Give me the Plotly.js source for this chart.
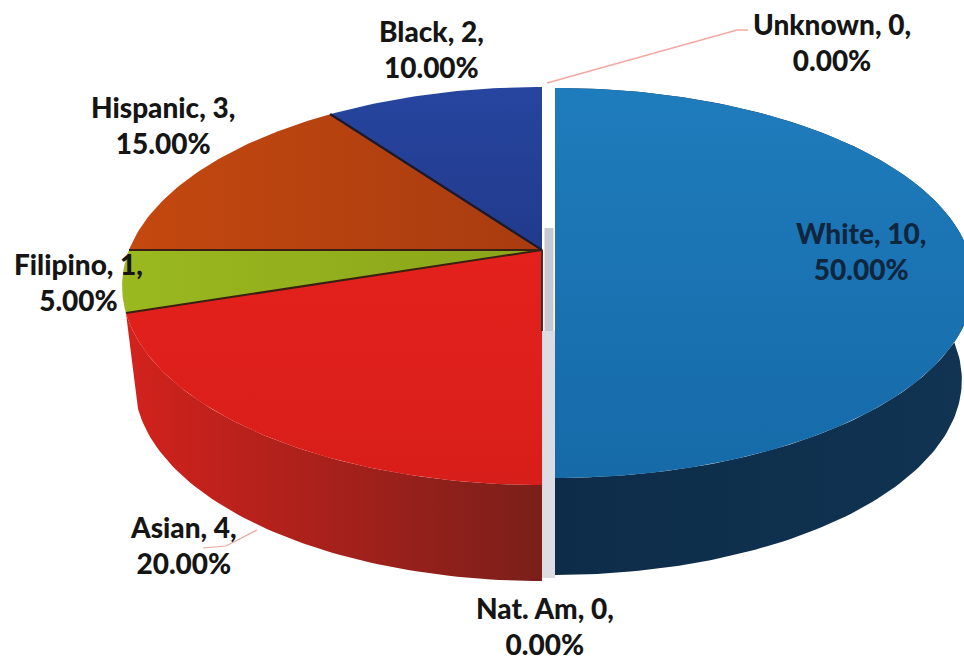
<!DOCTYPE html>
<html><head><meta charset="utf-8">
<script src="https://cdn.plot.ly/plotly-3.0.1.min.js"></script>
<style>html,body{margin:0;padding:0;background:#fff}#c{width:964px;height:661px}</style>
</head><body><div id="c"></div>
<script>
// Data (clockwise from 12 o'clock)
const categories = ['White','Nat. Am','Asian','Filipino','Hispanic','Black','Unknown'];
const counts = [10,0,4,1,3,2,0];
const percents = ['50.00%','0.00%','20.00%','5.00%','15.00%','10.00%','0.00%'];
const topColors = [['#166aa8','#1f7cbc'],null,['#d81e1a','#e4211c'],['#9ab81f','#8aa51a'],['#c4480f','#a83c10'],['#213a8c','#27459f'],null];
const sideColors = [['#0d2c49','#103452'],null,['#d3221c','#7a1f1a'],null,null,null,null];
const gradientDir = ['vertical',null,'vertical','horizontal','horizontal','vertical',null];
const labelX = [861,545,183,78,163,431,832];
const labelY = [251,626,545,282,125,49,42];
const labelColor = ['#10263f','#151515','#151515','#151515','#151515','#151515','#151515'];

const total = counts.reduce((a,b)=>a+b,0);
const P = 0.181;
const geomLeft  = {cx:542, cy:250, a:413, b:192.5, p:P, cy2:346, a2:401, b2:192.5};
const geomWhite = {cx:555, cy:250, a:413, b:189.4, p:0.169, cy2:347, a2:401, b2:189.4};

function project(g, deg, lower){
  const t = deg*Math.PI/180, u = Math.sin(t), v = Math.cos(t), w = 1+g.p*v;
  return lower ? [g.cx+g.a2*u/w, g.cy2-g.b2*v/w] : [g.cx+g.a*u/w, g.cy-g.b*v/w];
}
function arc(g, d0, d1, lower){
  const n = Math.max(2, Math.ceil(Math.abs(d1-d0)));
  const pts = [];
  for(let i=0;i<=n;i++) pts.push(project(g, d0+(d1-d0)*i/n, lower));
  return pts;
}
const traces = [];
function poly(pts, colors, dir){
  traces.push({type:'scatter', mode:'lines', x:pts.map(p=>p[0]), y:pts.map(p=>p[1]),
    fill:'toself', line:{width:0, color:colors[0]}, hoverinfo:'skip', showlegend:false,
    fillgradient:{type:dir, colorscale:[[0,colors[0]],[1,colors[1]]]}});
}
function seg(xs, ys, color, width){
  traces.push({type:'scatter', mode:'lines', x:xs, y:ys, line:{color:color,width:width},
    hoverinfo:'skip', showlegend:false});
}
// gap between the exploded half
seg([548.5,548.5],[331,578],'#dcdce2',13);
seg([549,549],[228,331],'#c8c8d2',9);

let ang = 0; const spans = [];
counts.forEach((c,i)=>{ const d = c/total*360; spans.push([ang,ang+d]); ang += d; });

// sides
counts.forEach((c,i)=>{
  if(!sideColors[i]) return;
  const g = i===0 ? geomWhite : geomLeft;
  const s = spans[i];
  const up = arc(g,s[0],s[1],false), lo = arc(g,s[0],s[1],true).reverse();
  poly(up.concat(lo), sideColors[i], 'horizontal');
});
// tops
counts.forEach((c,i)=>{
  if(!c) return;
  const g = i===0 ? geomWhite : geomLeft;
  const s = spans[i];
  const apex = [g.cx,g.cy];
  const pts = [apex].concat(arc(g,s[0],s[1],false),[apex]);
  poly(pts, topColors[i], gradientDir[i]);
});
// dark slice edges on the left half
[2,3,4,5].forEach(i=>{
  const e = project(geomLeft, spans[i][0], false);
  if(i>2) seg([geomLeft.cx,e[0]],[geomLeft.cy,e[1]],'#3a1f12',2);
});
const e0 = project(geomLeft,324,false);
seg([geomLeft.cx,e0[0]],[geomLeft.cy,e0[1]],'#1a1a30',2);
seg([542,542],[250,331],'#4a2a22',2);
// leader lines
seg([547,737,748],[83,30,30],'#f3a9a2',1.6);
seg([203,226,257],[548,546,530],'#eda49c',1.2);

const annotations = categories.map((c,i)=>({
  xref:'x', yref:'y', x:labelX[i], y:labelY[i], showarrow:false, align:'center',
  xanchor:'center', yanchor:'middle',
  text:c+', '+counts[i]+',<br>'+percents[i],
  font:{family:'Lato, "Open Sans", sans-serif', size:28, color:labelColor[i], weight:900}
}));
Plotly.newPlot('c', traces, {
  width:964, height:661, margin:{l:0,r:0,t:0,b:0}, paper_bgcolor:'#fff', plot_bgcolor:'#fff',
  showlegend:false,
  xaxis:{range:[0,964], visible:false, fixedrange:true},
  yaxis:{range:[661,0], visible:false, fixedrange:true},
  annotations
}, {displayModeBar:false, staticPlot:true});
</script></body></html>
